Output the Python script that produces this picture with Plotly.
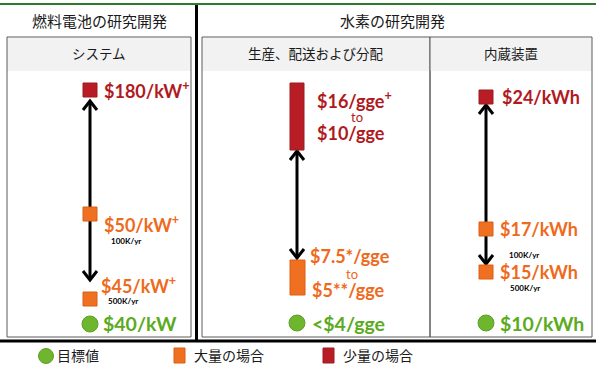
import plotly.graph_objects as go

# ---------------- data ----------------
section_titles = ["燃料電池の研究開発", "水素の研究開発"]
panel_titles = ["システム", "生産、配送および分配", "内蔵装置"]
low_volume_cost = ["$180/kW<sup>+</sup>", "$16/gge<sup>+</sup>", "$24/kWh"]
low_volume_cost_to = ["", "$10/gge", ""]
high_volume_cost = ["$50/kW<sup>+</sup>", "$7.5*/gge", "$17/kWh"]
high_volume_cost_2 = ["$45/kW<sup>+</sup>", "$5**/gge", "$15/kWh"]
range_word = "to"
volume_notes = ["100K/yr", "500K/yr"]
target_cost = ["$40/kW", "<$4/gge", "$10/kWh"]
legend_labels = ["目標値", "大量の場合", "少量の場合"]

# ---------------- styles ----------------
RED, RED_T, RED_L = "#B81D25", "#B01A22", "#9E1A20"
ORANGE, ORANGE_T, ORANGE_L = "#EF7021", "#EE6A1C", "#D95E14"
GREEN, GREEN_T, GREEN_L = "#6DB62E", "#5AAB20", "#5E9F27"
JP = "Noto Sans CJK JP"
NUM = "Lato"
VAL = 18
TGT = 19.5

fig = go.Figure()
shapes = []
ann = []

def line(x0, y0, x1, y1, color, width, layer="below"):
    shapes.append(dict(type="line", x0=x0, y0=y0, x1=x1, y1=y1,
                       line=dict(color=color, width=width), layer=layer))

def rect(x0, y0, x1, y1, fill=None, lc=None, lw=1, layer="below"):
    shapes.append(dict(type="rect", x0=x0, y0=y0, x1=x1, y1=y1,
                       fillcolor=fill or "rgba(0,0,0,0)",
                       line=dict(color=lc or "rgba(0,0,0,0)", width=lw if lc else 0),
                       layer=layer))

def text(x, y, s, size, color, font=NUM, anchor="left", weight="bold"):
    ann.append(dict(x=x, y=y, text=s, showarrow=False, xanchor=anchor,
                    yanchor="middle", borderpad=0,
                    font=dict(family=font, size=size, color=color, weight=weight)))

def arrow(x, top, bottom):
    # shaft + two open chevron heads
    line(x, top + 1, x, bottom - 1, "black", 3)
    shapes.append(dict(type="path", path=f"M {x-7},{top+9} L {x},{top} L {x+7},{top+9}",
                       line=dict(color="black", width=3), layer="below"))
    shapes.append(dict(type="path", path=f"M {x-7},{bottom-9} L {x},{bottom} L {x+7},{bottom-9}",
                       line=dict(color="black", width=3), layer="below"))

# frame lines
line(0, 4, 596, 4, "#2F7A2A", 2)
line(196.5, 5, 196.5, 341, "black", 3)
line(0, 341, 596, 341, "black", 3)

# panels
panels_x = [(7, 191), (202, 430), (430, 592)]
for (x0, x1), t in zip(panels_x, panel_titles):
    rect(x0, 38, x1, 71, fill="#F2F2F2")
    rect(x0, 37, x1, 337, lc="#5A5A5A", lw=1)
    text((x0 + x1) / 2, 53, t, 13.5, "#1A1A1A", font=JP, anchor="center", weight="normal")

text(99, 20, section_titles[0], 15, "#1A1A1A", font=JP, anchor="center", weight="normal")
text(392, 20, section_titles[1], 15, "#1A1A1A", font=JP, anchor="center", weight="normal")

# positions of the schematic marks (layout, not data)
cx = [90, 297, 486]
red_y = [90, None, 97]
orange_y = [[214, 299], None, [229, 272]]
green_y = [324, 323, 323]

# arrows (beneath squares)
arrow(90, 101, 280)
arrow(297, 151, 258)
arrow(486, 105, 264)

sq_x, sq_y, sq_c, sq_l = [], [], [], []
for i in (0, 2):
    sq_x.append(cx[i]); sq_y.append(red_y[i]); sq_c.append(RED); sq_l.append(RED_L)
    for y in orange_y[i]:
        sq_x.append(cx[i]); sq_y.append(y); sq_c.append(ORANGE); sq_l.append(ORANGE_L)

fig.add_trace(go.Scatter(x=sq_x, y=sq_y, mode="markers", hoverinfo="skip",
                         marker=dict(symbol="square", size=14, color=sq_c,
                                     line=dict(color=sq_l, width=1))))
fig.add_trace(go.Scatter(x=cx, y=green_y, mode="markers", hoverinfo="skip",
                         marker=dict(symbol="circle", size=16, color=GREEN,
                                     line=dict(color=GREEN_L, width=1))))
# hydrogen range bars
rect(290, 83, 304, 150, fill=RED, lc=RED_L, lw=1, layer="above")
rect(290, 260, 305, 295, fill=ORANGE, lc=ORANGE_L, lw=1, layer="above")

# labels: fuel cell
text(103, 90, low_volume_cost[0], VAL, RED_T)
text(103, 224, high_volume_cost[0], VAL, ORANGE_T)
text(110, 241, volume_notes[0], 8, "black")
text(100, 285, high_volume_cost_2[0], VAL, ORANGE_T)
text(107, 301, volume_notes[1], 8, "black")
text(102, 323, target_cost[0], TGT, GREEN_T)

# labels: hydrogen production
text(316, 100, low_volume_cost[1], VAL, RED_T)
text(357, 117, range_word, 13, RED_T, anchor="center", weight="normal")
text(316, 133, low_volume_cost_to[1], VAL, RED_T)
text(309, 256, high_volume_cost[1], VAL, ORANGE_T)
text(352, 274, range_word, 13, ORANGE_T, anchor="center", weight="normal")
text(311, 290, high_volume_cost_2[1], VAL, ORANGE_T)
text(311, 323, target_cost[1], TGT, GREEN_T)

# labels: storage
text(501, 97, low_volume_cost[2], VAL, RED_T)
text(499, 229, high_volume_cost[2], VAL, ORANGE_T)
text(508, 255, volume_notes[0], 8, "black")
text(499, 272, high_volume_cost_2[2], VAL, ORANGE_T)
text(509, 288, volume_notes[1], 8, "black")
text(499, 323, target_cost[2], TGT, GREEN_T)

# legend
fig.add_trace(go.Scatter(x=[46], y=[356], mode="markers", hoverinfo="skip",
                         marker=dict(symbol="circle", size=15, color=GREEN,
                                     line=dict(color=GREEN_L, width=1))))
rect(174, 348, 185, 363, fill=ORANGE, lc=ORANGE_L, lw=1, layer="above")
rect(323, 348, 334, 363, fill=RED, lc=RED_L, lw=1, layer="above")
text(56, 355, legend_labels[0], 14, "#1A1A1A", font=JP, weight="normal")
text(193, 355, legend_labels[1], 14, "#1A1A1A", font=JP, weight="normal")
text(342, 355, legend_labels[2], 14, "#1A1A1A", font=JP, weight="normal")

fig.update_layout(
    width=600, height=368, autosize=False,
    margin=dict(l=0, r=0, t=0, b=0),
    paper_bgcolor="white", plot_bgcolor="white",
    showlegend=False, shapes=shapes, annotations=ann,
    xaxis=dict(range=[0, 600], visible=False, fixedrange=True),
    yaxis=dict(range=[368, 0], visible=False, fixedrange=True),
)
fig.write_html("out.html", config={"displayModeBar": False})
